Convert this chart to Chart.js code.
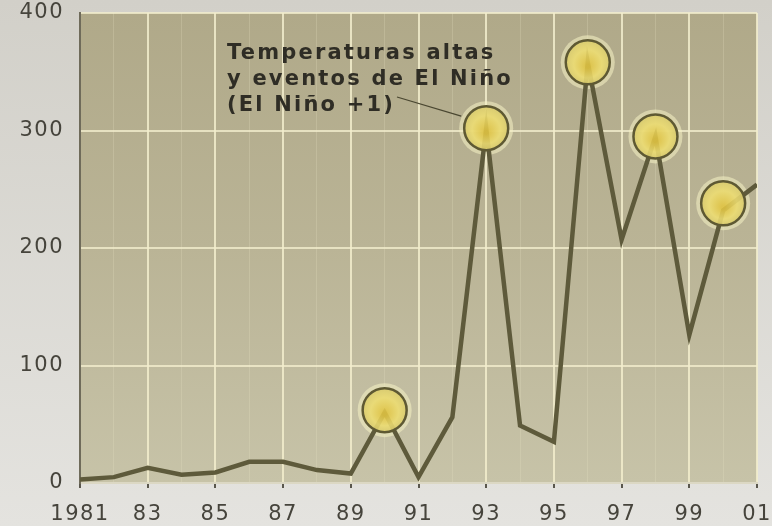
<!DOCTYPE html>
<html>
<head>
<meta charset="utf-8">
<script src="https://cdn.jsdelivr.net/npm/chart.js@4/dist/chart.umd.min.js"></script>
<style>
  html, body { margin: 0; padding: 0; background: #dcdbd6; }
  #wrap { position: relative; width: 772px; height: 526px; }
  #note {
    position: absolute; left: 227px; top: 39px;
    font: bold 21px "DejaVu Sans", sans-serif;
    letter-spacing: 2.2px; line-height: 26px; color: #2f2d25;
    white-space: nowrap; pointer-events: none;
  }
</style>
</head>
<body>
<div id="wrap">
  <canvas id="chart" width="772" height="526"></canvas>
  <div id="note">Temperaturas altas<br>y eventos de El Niño<br>(El Niño +1)</div>
</div>
<script>
// data
const years = [1981, 1982, 1983, 1984, 1985, 1986, 1987, 1988, 1989, 1990,
  1991, 1992, 1993, 1994, 1995, 1996, 1997, 1998, 1999, 2000, 2001];
const cases = [3, 5, 13, 7, 9, 18, 18, 11, 8, 60,
  5, 56, 302, 49, 35, 358, 207, 295, 126, 232, 254];

const ninoYears = [1990, 1993, 1996, 1998, 2000];
const ninoValues = [62, 302, 358, 295, 238];

const labelYears = [1981, 1983, 1985, 1987, 1989, 1991, 1993, 1995, 1997, 1999, 2001];
const labelTexts = ['1981', '83', '85', '87', '89', '91', '93', '95', '97', '99', '01'];
const yTicks = [0, 100, 200, 300, 400];

const lineColor = '#5e5a3b';

const backdrop = {
  id: 'backdrop',
  beforeDraw(chart) {
    const { ctx, chartArea: a, width, height } = chart;
    ctx.save();
    let g = ctx.createLinearGradient(0, 0, 0, height);
    g.addColorStop(0, '#d2d0c9');
    g.addColorStop(1, '#e4e3df');
    ctx.fillStyle = g;
    ctx.fillRect(0, 0, width, height);
    g = ctx.createLinearGradient(0, a.top, 0, a.bottom);
    g.addColorStop(0, '#b0a989');
    g.addColorStop(0.5, '#bab496');
    g.addColorStop(1, '#c7c3a8');
    ctx.fillStyle = g;
    ctx.fillRect(a.left, a.top, a.right - a.left, a.bottom - a.top);
    ctx.restore();
    ctx.letterSpacing = '1.5px';
  },
  afterDatasetsDraw(chart) {
    // leader line from the note to the 1993 circle
    const { ctx, scales } = chart;
    const i = ninoYears.indexOf(1993);
    const tx = scales.x.getPixelForValue(1993) - 25;
    const ty = scales.y.getPixelForValue(ninoValues[i]) - 12;
    ctx.save();
    ctx.strokeStyle = '#4a4731';
    ctx.lineWidth = 1.2;
    ctx.beginPath();
    ctx.moveTo(397, 97);
    ctx.lineTo(tx, ty);
    ctx.stroke();
    ctx.restore();
  }
};

function circleFill(c) {
  const { chart, parsed } = c;
  if (!parsed || !chart.chartArea) return 'rgba(226,208,96,0.9)';
  const x = chart.scales.x.getPixelForValue(parsed.x);
  const y = chart.scales.y.getPixelForValue(parsed.y);
  const g = chart.ctx.createRadialGradient(x, y + 4, 2, x, y, 22);
  g.addColorStop(0, 'rgba(222,194,66,0.9)');
  g.addColorStop(0.6, 'rgba(234,218,112,0.9)');
  g.addColorStop(1, 'rgba(216,202,108,0.92)');
  return g;
}

const ninoPoints = ninoYears.map((x, i) => ({ x, y: ninoValues[i] }));

new Chart(document.getElementById('chart'), {
  type: 'line',
  data: {
    datasets: [
      {
        data: ninoPoints,
        showLine: false,
        order: 0,
        pointRadius: 22,
        pointHoverRadius: 22,
        pointBackgroundColor: circleFill,
        pointBorderColor: '#5e5933',
        pointBorderWidth: 2.5
      },
      {
        data: years.map((x, i) => ({ x, y: cases[i] })),
        order: 1,
        borderColor: lineColor,
        borderWidth: 4.5,
        pointRadius: 0,
        tension: 0,
        borderJoinStyle: 'miter'
      },
      {
        data: ninoPoints,
        showLine: false,
        order: 2,
        pointRadius: 27,
        pointHoverRadius: 27,
        pointBackgroundColor: 'rgba(246,242,196,0.55)',
        pointBorderWidth: 0
      }
    ]
  },
  plugins: [backdrop],
  options: {
    responsive: false,
    animation: false,
    events: [],
    layout: { autoPadding: false, padding: { top: 13, right: 15, left: 0, bottom: 0 } },
    plugins: { legend: { display: false }, tooltip: { enabled: false } },
    scales: {
      x: {
        type: 'linear',
        min: years[0],
        max: years[years.length - 1],
        afterFit(s) { s.height = 43; s.paddingLeft = 0; s.paddingRight = 0; },
        afterBuildTicks(s) { s.ticks = years.map(v => ({ value: v })); },
        border: { color: '#dcd8c4', width: 2 },
        grid: {
          color: c => labelYears.includes(c.tick.value) ? 'rgba(242,237,205,0.85)' : 'rgba(236,230,200,0.22)',
          lineWidth: c => labelYears.includes(c.tick.value) ? 2 : 1,
          tickColor: c => labelYears.includes(c.tick.value) ? '#5a574d' : 'rgba(0,0,0,0)',
          tickLength: 5
        },
        ticks: {
          autoSkip: false,
          maxRotation: 0,
          padding: 14,
          color: '#46443c',
          font: { family: 'DejaVu Sans', size: 21 },
          callback: v => {
            const k = labelYears.indexOf(v);
            return k < 0 ? '' : labelTexts[k];
          }
        }
      },
      y: {
        min: yTicks[0],
        max: yTicks[yTicks.length - 1],
        afterFit(s) { s.width = 80; s.paddingTop = 0; s.paddingBottom = 0; },
        afterBuildTicks(s) { s.ticks = yTicks.map(v => ({ value: v })); },
        border: { color: '#6f6b5a', width: 2 },
        grid: {
          color: c => c.tick.value === 0 ? 'rgba(0,0,0,0)' : 'rgba(242,237,205,0.8)',
          lineWidth: 2,
          drawTicks: false
        },
        ticks: {
          padding: 16,
          color: '#46443c',
          font: { family: 'DejaVu Sans', size: 21 }
        }
      }
    }
  }
});
</script>
</body>
</html>
